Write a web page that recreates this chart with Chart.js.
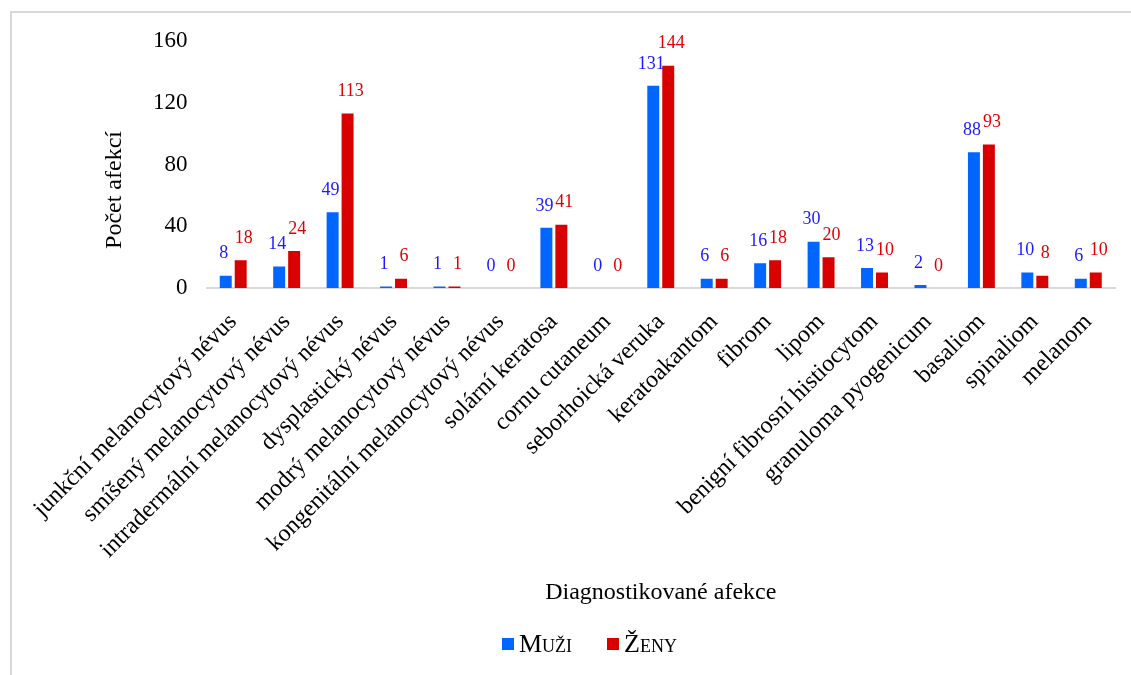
<html lang="cs">
<head>
<meta charset="utf-8">
<style>
    body { margin: 0; background: #fff; overflow: hidden; }
    #frame {
        position: absolute; left: 10px; top: 11px;
        width: 2000px; height: 2000px;
        border: 2px solid #d9d9d9;
    }
    #wrap { position: absolute; left: 0; top: 0; width: 1131px; height: 675px; }
    #legend {
        position: absolute; left: 502px; top: 630px;
        display: flex; align-items: center;
        font: 26px 'Liberation Serif', 'Times New Roman', serif;
        font-variant: small-caps; line-height: 28px; color: #000;
    }
    #legend .box { width: 12px; height: 12px; margin-right: 5px; }
    #legend .item { display: flex; align-items: center; }
    #legend .item + .item { margin-left: 35px; }
</style>
</head>
<body>
<div id="frame"></div>
<div id="wrap">
    <canvas id="myChart" width="1131" height="675"></canvas>
</div>
<div id="legend"></div>

<script src="https://cdn.jsdelivr.net/npm/chart.js@4/dist/chart.umd.min.js"></script>
<script>
    const categories = [
        'junkční melanocytový névus', 'smíšený melanocytový névus', 'intradermální melanocytový névus',
        'dysplastický névus', 'modrý melanocytový névus', 'kongenitální melanocytový névus',
        'solární keratosa', 'cornu cutaneum', 'seborhoická veruka', 'keratoakantom', 'fibrom',
        'lipom', 'benigní fibrosní histiocytom', 'granuloma pyogenicum', 'basaliom', 'spinaliom', 'melanom'
    ]
    const muzi = [8, 14, 49, 1, 1, 0, 39, 0, 131, 6, 16, 30, 13, 2, 88, 10, 6]
    const zeny = [18, 24, 113, 6, 1, 0, 41, 0, 144, 6, 18, 20, 10, 0, 93, 8, 10]
    const yTicks = [0, 40, 80, 120, 160]

    const serif = "'Liberation Serif', 'Times New Roman', serif"
    Chart.defaults.font.family = serif
    Chart.defaults.color = '#000'

    // value labels above each bar, coloured by series
    const barLabels = {
        id: 'barLabels',
        afterDatasetsDraw(chart) {
            const c = chart.ctx
            c.save()
            c.font = '18px ' + serif
            c.textAlign = 'center'
            c.textBaseline = 'middle'
            chart.data.datasets.forEach((ds, i) => {
                const meta = chart.getDatasetMeta(i)
                c.fillStyle = ds.labelColor
                meta.data.forEach((bar, j) => {
                    c.fillText(ds.data[j], bar.x + ds.labelShift, bar.y - 22)
                })
            })
            c.restore()
        }
    }

    // vertical y title, sits a bit lower than the scale would put it
    const yTitle = {
        id: 'yTitle',
        afterDraw(chart) {
            const c = chart.ctx
            c.save()
            c.translate(115, 190)
            c.rotate(-Math.PI / 2)
            c.font = '24px ' + serif
            c.fillStyle = '#000'
            c.textAlign = 'center'
            c.textBaseline = 'middle'
            c.fillText('Počet afekcí', 0, 0)
            c.restore()
        }
    }

    // small-caps legend under the chart
    const htmlLegend = {
        id: 'htmlLegend',
        afterUpdate(chart) {
            const box = document.getElementById('legend')
            box.innerHTML = ''
            chart.data.datasets.forEach(ds => {
                const item = document.createElement('span')
                item.className = 'item'
                const swatch = document.createElement('span')
                swatch.className = 'box'
                swatch.style.background = ds.backgroundColor
                const text = document.createElement('span')
                text.textContent = ds.label
                item.appendChild(swatch)
                item.appendChild(text)
                box.appendChild(item)
            })
        }
    }

    const ctx = document.getElementById('myChart')
    let chart = new Chart(ctx, {
        type: 'bar',
        data: {
            labels: categories,
            datasets: [{
                label: 'Muži',
                data: muzi,
                backgroundColor: '#0066ff',
                labelColor: '#1a1aff',
                labelShift: -2
            }, {
                label: 'Ženy',
                data: zeny,
                backgroundColor: '#d90000',
                labelColor: '#e00000',
                labelShift: 3
            }]
        },
        options: {
            responsive: false,
            animation: false,
            categoryPercentage: 0.56,
            barPercentage: 0.8,
            layout: { padding: { top: 41, left: 142, right: 16, bottom: 67 } },
            plugins: {
                tooltip: { enabled: false },
                legend: { display: false }
            },
            scales: {
                x: {
                    // long rotated labels need more than the default half-height cap
                    afterFit: axis => { axis.height = 320 },
                    grid: { display: false },
                    border: { color: '#d9d9d9', width: 2 },
                    ticks: {
                        maxRotation: 45,
                        minRotation: 45,
                        padding: 12,
                        font: { size: 24 }
                    },
                    title: {
                        display: true,
                        text: 'Diagnostikované afekce',
                        font: { size: 24 },
                        padding: { top: 6, bottom: 1 }
                    }
                },
                y: {
                    min: 0,
                    max: 160,
                    afterBuildTicks: axis => { axis.ticks = yTicks.map(v => ({ value: v })) },
                    grid: { display: false },
                    border: { display: false },
                    ticks: { padding: 11, font: { size: 23 } }
                }
            }
        },
        plugins: [barLabels, yTitle, htmlLegend]
    })
</script>
</body>
</html>
